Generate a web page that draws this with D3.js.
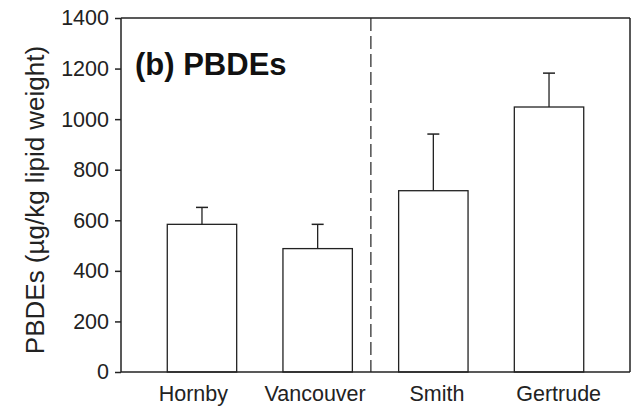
<!DOCTYPE html>
<html>
<head>
<meta charset="utf-8">
<script src="https://cdn.jsdelivr.net/npm/d3@7"></script>
<style>
  body { margin: 0; background: #fff; }
  text { font-family: "Liberation Sans", Arial, sans-serif; fill: #222; }
</style>
</head>
<body>
<svg id="chart" width="635" height="406"></svg>
<script>
// data
var sites = ["Hornby", "Vancouver", "Smith", "Gertrude"];
var means = [584, 488, 717, 1048];
var upperErr = [651, 584, 941, 1182];
var yTicks = [0, 200, 400, 600, 800, 1000, 1200, 1400];

var svg = d3.select("#chart");

// plot box (note: "top" is taken by window.top, so use other names)
var plotLeft = 121, plotRight = 630, plotTop = 18, plotBottom = 372;

var x = d3.scaleBand()
  .domain(sites)
  .range([plotLeft, plotRight])
  .paddingInner(0.4)
  .paddingOuter(0.4);

// category labels in the original sit a bit wider apart than the bars
var labelX = d3.scalePoint()
  .domain(sites)
  .range([plotLeft, plotRight])
  .padding(0.59);

var y = d3.scaleLinear()
  .domain([0, 1400])
  .range([plotBottom, plotTop]);

// bars
svg.selectAll("rect.bar")
  .data(sites)
  .enter().append("rect")
  .attr("class", "bar")
  .attr("x", function (d) { return x(d); })
  .attr("y", function (d, i) { return y(means[i]); })
  .attr("width", x.bandwidth())
  .attr("height", function (d, i) { return y(0) - y(means[i]); })
  .style("fill", "#fff")
  .style("stroke", "#222")
  .style("stroke-width", 1.3);

// error bars, upper side only
sites.forEach(function (s, i) {
  var cx = x(s) + x.bandwidth() / 2;
  svg.append("line")
    .attr("x1", cx).attr("x2", cx)
    .attr("y1", y(means[i])).attr("y2", y(upperErr[i]))
    .style("stroke", "#222").style("stroke-width", 1.3);
  svg.append("line")
    .attr("x1", cx - 6).attr("x2", cx + 6)
    .attr("y1", y(upperErr[i])).attr("y2", y(upperErr[i]))
    .style("stroke", "#222").style("stroke-width", 1.5);
});

// dashed divider between the two groups of sites
var gapStart = x("Vancouver") + x.bandwidth();
var divX = gapStart + 0.4 * (x("Smith") - gapStart);
svg.append("line")
  .attr("x1", divX).attr("x2", divX)
  .attr("y1", plotTop).attr("y2", plotBottom)
  .style("stroke", "#333")
  .style("stroke-width", 1.3)
  .style("stroke-dasharray", "13,5");

// frame top + right
svg.append("line")
  .attr("x1", plotLeft).attr("x2", plotRight)
  .attr("y1", plotTop).attr("y2", plotTop)
  .style("stroke", "#222").style("stroke-width", 1.5);
svg.append("line")
  .attr("x1", plotRight).attr("x2", plotRight)
  .attr("y1", plotTop).attr("y2", plotBottom)
  .style("stroke", "#222").style("stroke-width", 1.5);

// y axis
var leftAxis = d3.axisLeft(y).tickValues(yTicks).tickFormat(d3.format("d")).tickSize(6).tickPadding(6);
var gy = svg.append("g")
  .attr("transform", "translate(" + plotLeft + ",0)")
  .call(leftAxis);
gy.select(".domain").attr("d", "M0," + plotTop + "V" + plotBottom);
gy.selectAll("path, line").style("stroke", "#222").style("stroke-width", 1.5);
gy.selectAll("text").style("font-size", "21.5px").style("font-family", "Liberation Sans, Arial, sans-serif").attr("fill", "#222");

// x axis, no ticks
var bottomAxis = d3.axisBottom(labelX).tickSize(0).tickPadding(14);
var gx = svg.append("g")
  .attr("transform", "translate(0," + plotBottom + ")")
  .call(bottomAxis);
gx.select(".domain").attr("d", "M" + plotLeft + ",0H" + plotRight);
gx.selectAll("path").style("stroke", "#222").style("stroke-width", 1.5);
gx.selectAll("text").style("font-size", "21.5px").style("font-family", "Liberation Sans, Arial, sans-serif").attr("fill", "#222");

// y-axis label
svg.append("text")
  .attr("transform", "translate(44," + ((plotTop + plotBottom) / 2 + 5) + ")rotate(-90)")
  .attr("text-anchor", "middle")
  .style("font-size", "26px")
  .text("PBDEs (\u00b5g/kg lipid weight)");

// panel title
svg.append("text")
  .attr("x", 135)
  .attr("y", 75)
  .style("font-size", "31px")
  .style("font-weight", "bold")
  .style("fill", "#111")
  .text("(b) PBDEs");
</script>
</body>
</html>
